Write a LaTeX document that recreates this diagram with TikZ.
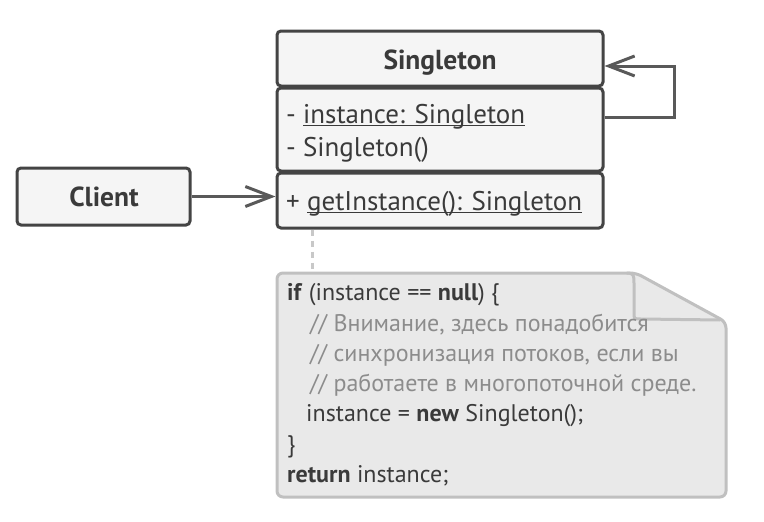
\documentclass[tikz,border=0pt]{standalone}
\usepackage{fontspec}
\setmainfont{PT Sans}
\usetikzlibrary{arrows.meta}
\definecolor{boxline}{HTML}{444444}
\definecolor{boxfill}{HTML}{F5F5F5}
\definecolor{txt}{HTML}{3A3A3A}
\definecolor{arrcol}{HTML}{595959}
\definecolor{notefill}{HTML}{E9E9E9}
\definecolor{noteline}{HTML}{C0C0C0}
\definecolor{cmt}{HTML}{8C8C8C}
\definecolor{dashcol}{HTML}{C8C8C8}
\newcommand\myul[1]{\setbox0\hbox{#1}\rlap{\raisebox{-3pt}{\rule{\wd0}{1.5pt}}}\box0}
\begin{document}
\begin{tikzpicture}[x=1pt,y=-1pt,
  umlbox/.style={draw=boxline, fill=boxfill, line width=3pt, rounded corners=4pt, inner sep=0pt},
  body/.style={text=txt, font=\fontsize{27}{31}\selectfont, inner sep=0pt, anchor=base west},
  title/.style={text=txt, font=\fontsize{27.5}{31}\selectfont\bfseries, inner sep=0pt, anchor=base},
  code/.style={text=txt, font=\fontsize{24}{28}\selectfont, inner sep=0pt, anchor=base west},
  cmtline/.style={text=cmt, font=\fontsize{24}{28}\selectfont, inner sep=0pt, anchor=base west},
  arr/.style={draw=arrcol, line width=3pt, -{Straight Barb[length=26pt,width=20pt,line width=3pt]}},
  dashline/.style={draw=dashcol, line width=3pt, dash pattern=on 6pt off 5pt},
  note/.style={draw=noteline, fill=notefill, line width=3pt, rounded corners=6pt, line join=round}
]
\useasboundingbox (0,0) rectangle (764,522);
% note
\draw[note] (277,273) -- (636,273) -- (726,322) -- (726,497) -- (277,497) -- cycle;
\draw[draw=noteline, line width=3pt, line cap=round, line join=round]
  (627,273) .. controls (634,273) and (634,276) .. (634,283) -- (634,313)
  .. controls (634,319) .. (641,319) -- (720,320);
% boxes
\node[umlbox, minimum width=326pt, minimum height=55pt] (sgtop) at (440,58.5) {};
\node[umlbox, minimum width=326pt, minimum height=83pt] (sgattr) at (440,129.5) {};
\node[umlbox, minimum width=326pt, minimum height=55pt] (sgmeth) at (440,200.5) {};
\node[umlbox, minimum width=173pt, minimum height=57pt] (client) at (103.5,196.5) {};
% texts
\node[title] (t1) at (440,69) {Singleton};
\node[title] (t2) at (104,206.5) {Client};
\node[body] (a1) at (286,123) {- \myul{instance: Singleton}};
\node[body] (a2) at (286,156.5) {- Singleton()};
\node[body] (m1) at (286,210) {+ \myul{getInstance(): Singleton}};
% connectors
\coordinate (loopA) at (674,117);
\coordinate (loopB) at (674,66);
\draw[arr] (sgattr.east |- loopA) -- (loopA) -- (loopB) -- (sgtop.east |- loopB);
\draw[arr] (client.east) -- (client.east -| sgmeth.west);
\coordinate (dashx) at (312,271);
\draw[dashline] (sgmeth.south -| dashx) -- (dashx);
% code
\node[code] (c1) at (287,300.5) {\textbf{if} (instance == \textbf{null}) \{};
\node[cmtline] (c2) at (310,331) {// Внимание, здесь понадобится};
\node[cmtline] (c3) at (310,361) {// синхронизация потоков, если вы};
\node[cmtline] (c4) at (310,391) {// работаете в многопоточной среде.};
\node[code] (c5) at (306,421.5) {instance = \textbf{new} Singleton();};
\node[code] (c6) at (287,452) {\}};
\node[code] (c7) at (287,482) {\textbf{return} instance;};
\end{tikzpicture}
\end{document}
